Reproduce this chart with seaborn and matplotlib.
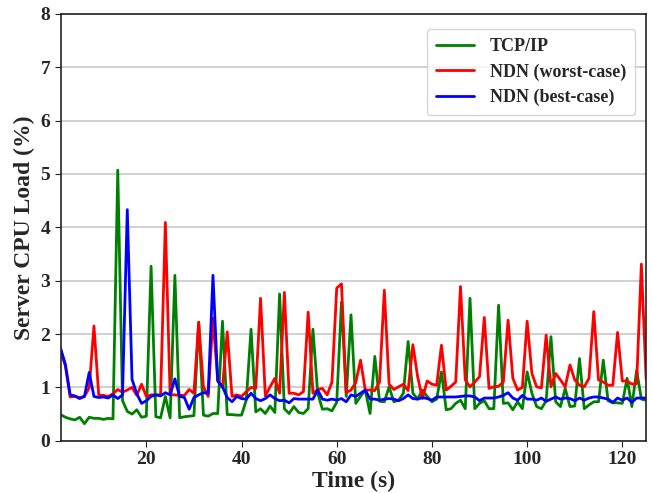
import numpy as np
import pandas as pd
import matplotlib
matplotlib.use("Agg")
import matplotlib.pyplot as plt
import seaborn as sns

# time axis (s)
time_s = list(range(2, 126))

tcp_ip = [
    0.49, 0.44, 0.41, 0.39, 0.44, 0.32, 0.44, 0.42, 0.42, 0.40,
    0.42, 0.41, 5.07, 0.75, 0.55, 0.50, 0.58, 0.44, 0.46, 3.27,
    0.45, 0.43, 0.83, 0.43, 3.10, 0.43, 0.45, 0.46, 0.47, 2.22,
    0.48, 0.46, 0.51, 0.51, 2.24, 0.49, 0.49, 0.48, 0.48, 0.76,
    2.09, 0.54, 0.60, 0.51, 0.65, 0.53, 2.75, 0.60, 0.51, 0.64,
    0.53, 0.51, 0.60, 2.09, 0.89, 0.59, 0.60, 0.56, 0.72, 2.60,
    0.83, 2.36, 0.70, 0.83, 0.95, 0.51, 1.58, 0.74, 0.73, 1.01,
    0.73, 0.76, 0.89, 1.86, 0.89, 0.78, 0.95, 0.83, 0.73, 0.78,
    1.29, 0.58, 0.60, 0.70, 0.76, 0.60, 2.67, 0.60, 0.70, 0.75,
    0.60, 0.60, 2.54, 0.70, 0.71, 0.58, 0.73, 0.60, 1.29, 0.89,
    0.64, 0.60, 0.75, 1.95, 0.73, 0.64, 0.98, 0.64, 0.65, 1.54,
    0.60, 0.67, 0.73, 0.73, 1.51, 0.75, 0.71, 0.71, 0.70, 1.17,
    0.64, 1.32, 0.78, 0.76,
]

ndn_worst = [
    1.68, 1.40, 0.82, 0.83, 0.81, 0.83, 0.99, 2.15, 0.86, 0.85,
    0.83, 0.88, 0.96, 0.91, 0.95, 1.00, 0.85, 1.06, 0.83, 0.86,
    0.86, 0.86, 4.09, 0.86, 0.86, 0.85, 0.85, 0.96, 0.89, 2.22,
    1.01, 0.83, 2.30, 1.13, 1.00, 2.04, 0.83, 0.86, 0.83, 0.92,
    1.00, 0.98, 2.67, 0.84, 1.01, 1.17, 0.89, 2.78, 0.89, 0.89,
    0.86, 0.92, 2.41, 0.89, 0.96, 0.98, 0.86, 1.10, 2.86, 2.94,
    0.90, 0.95, 1.09, 1.51, 0.95, 0.95, 0.94, 1.10, 2.82, 1.06,
    0.96, 1.01, 1.06, 0.94, 1.80, 1.20, 0.79, 1.12, 1.06, 1.04,
    1.79, 0.95, 1.02, 1.10, 2.89, 1.14, 1.01, 1.10, 1.20, 2.31,
    0.98, 1.01, 1.02, 1.10, 2.26, 1.17, 0.95, 1.00, 2.24, 1.26,
    1.01, 0.99, 1.98, 1.01, 1.26, 1.14, 1.01, 1.42, 1.14, 1.04,
    1.01, 1.17, 2.42, 1.14, 1.10, 1.04, 1.04, 2.03, 1.12, 1.12,
    1.06, 1.07, 3.31, 1.15,
]

ndn_best = [
    1.73, 1.43, 0.86, 0.84, 0.79, 0.83, 1.28, 0.83, 0.81, 0.82,
    0.80, 0.86, 0.79, 0.86, 4.33, 1.15, 0.88, 0.70, 0.75, 0.83,
    0.86, 0.84, 0.90, 0.86, 1.16, 0.83, 0.81, 0.59, 0.81, 0.86,
    0.90, 0.89, 3.10, 1.12, 1.01, 0.81, 0.73, 0.83, 0.79, 0.78,
    0.89, 0.79, 0.75, 0.79, 0.86, 0.79, 0.75, 0.76, 0.71, 0.79,
    0.78, 0.78, 0.78, 0.78, 0.95, 0.78, 0.76, 0.78, 0.76, 0.79,
    0.73, 0.86, 0.83, 0.89, 0.95, 0.78, 0.78, 0.76, 0.78, 0.79,
    0.78, 0.75, 0.79, 0.86, 0.79, 0.78, 0.81, 0.79, 0.76, 0.82,
    0.82, 0.82, 0.82, 0.82, 0.83, 0.84, 0.84, 0.82, 0.75, 0.80,
    0.80, 0.80, 0.82, 0.85, 0.90, 0.80, 0.76, 0.85, 0.78, 0.78,
    0.76, 0.80, 0.74, 0.78, 0.82, 0.78, 0.80, 0.79, 0.75, 0.80,
    0.76, 0.80, 0.82, 0.82, 0.80, 0.78, 0.72, 0.80, 0.76, 0.80,
    0.72, 0.80, 0.80, 0.80,
]

series_names = ["TCP/IP", "NDN (worst-case)", "NDN (best-case)"]
series_colors = ["green", "red", "blue"]

df = pd.concat([
    pd.DataFrame({"Time": time_s, "Load": vals, "Series": name})
    for name, vals in zip(series_names, [tcp_ip, ndn_worst, ndn_best])
])

sns.set_style("ticks")
plt.rcParams["font.family"] = ["Liberation Serif", "DejaVu Serif"]
plt.rcParams["font.weight"] = "bold"
plt.rcParams["axes.labelweight"] = "bold"

fig, ax = plt.subplots(figsize=(6.52, 4.93), dpi=100)
fig.subplots_adjust(left=0.093, right=0.991, bottom=0.106, top=0.972)

sns.lineplot(data=df, x="Time", y="Load", hue="Series", hue_order=series_names,
             palette=dict(zip(series_names, series_colors)), linewidth=2, ax=ax)

ax.set_xlim(2, 125)
ax.set_ylim(0, 8)
ax.set_xticks([20, 40, 60, 80, 100, 120])
ax.set_yticks(range(0, 9))
ax.yaxis.grid(True, color="#c8c8c8", linewidth=1.2)
ax.set_axisbelow(True)
for s in ax.spines.values():
    s.set_color("#222222")
    s.set_linewidth(1.2)
ax.tick_params(labelsize=14, length=4, color="#222222")
for lab in ax.get_xticklabels() + ax.get_yticklabels():
    lab.set_fontweight("bold")
ax.set_xlabel("Time (s)", fontsize=17, fontweight="bold", labelpad=2)
ax.set_ylabel("Server CPU Load (%)", fontsize=17, fontweight="bold", labelpad=4)

leg = ax.legend(loc="upper right", fontsize=13, frameon=True, handlelength=2.1,
                borderpad=0.5, labelspacing=0.45, handletextpad=0.9,
                bbox_to_anchor=(0.997, 0.985))
leg.get_frame().set_edgecolor("#cccccc")
for t in leg.get_texts():
    t.set_fontweight("bold")

plt.savefig("out.png", dpi=100)
